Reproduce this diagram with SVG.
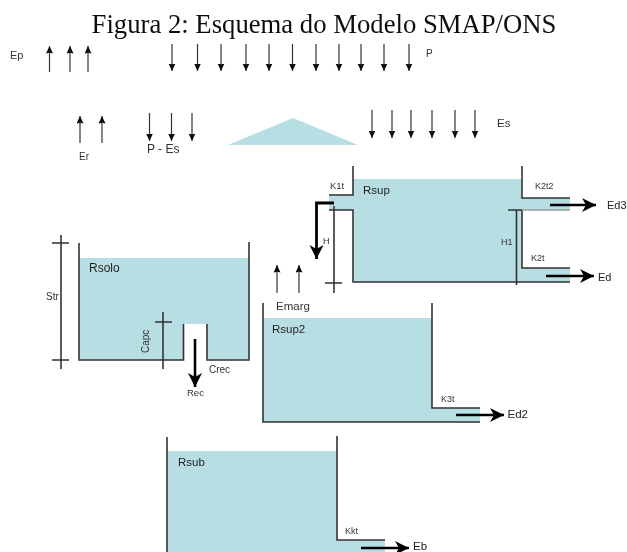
<svg xmlns="http://www.w3.org/2000/svg" width="627" height="552" viewBox="0 0 627 552">
<style>
.w{fill:#b7dfe3;stroke:none}
.l{fill:none;stroke:#333;stroke-width:1.6}
.g{fill:none;stroke:#9a9a9a;stroke-width:1.6}
.a{fill:none;stroke:#333;stroke-width:1.2;marker-end:url(#s)}
.b{fill:none;stroke:#000;stroke-width:2.6;marker-end:url(#m)}
.t{font-family:"Liberation Sans",Arial,sans-serif;font-size:10px;fill:#333}
.u{font-family:"Liberation Sans",Arial,sans-serif;font-size:9px;fill:#333}
.v{font-family:"Liberation Sans",Arial,sans-serif;font-size:11.5px;fill:#333}
.r{font-family:"Liberation Sans",Arial,sans-serif;font-size:11.5px;fill:#222}
</style>
<defs>
<marker id="s" markerUnits="userSpaceOnUse" markerWidth="8" markerHeight="8" refX="7.500" refY="3.500" orient="auto"><path d="M0,0L7.500,3.500L0,7L0.800,3.500Z" fill="#111"/></marker>
<marker id="m" markerUnits="userSpaceOnUse" markerWidth="16" markerHeight="16" refX="14" refY="7" orient="auto"><path d="M0,0L14,7L0,14L4,7Z" fill="#000"/></marker>
<filter id="soft" x="0" y="0" width="1" height="1"><feGaussianBlur stdDeviation="0.35"/></filter>
</defs>
<rect width="627" height="552" fill="#fff"/>
<g filter="url(#soft)">
<text id="title" x="324" y="33" text-anchor="middle" font-family="'Liberation Serif','Times New Roman',serif" font-size="26.700" fill="#111">Figura 2: Esquema do Modelo SMAP/ONS</text>
<g id="triangle"><path class="w" d="M228,145L293,118L358,145Z"/></g>
<g id="rsolo">
<path class="w" d="M79,258H249V360H207V324H183.500V360H79Z"/>
<path class="l" d="M79,243V360H183.500V324M207,324V360H249V242"/>
<text class="r" x="89" y="272" style="font-size:12px">Rsolo</text>
</g>
<g id="rsup">
<path class="w" d="M353,179H522V198H570V210H522V268H570V282H353V210H329V195H353Z"/>
<path class="l" d="M329,195H353V166M329,210H353V282H570M522,166V198H570M522,210V268H570"/>
<path class="g" d="M522,210H570"/>
<text class="r" x="363" y="194">Rsup</text>
</g>
<g id="rsup2">
<path class="w" d="M263,318H432V408H480V422H263Z"/>
<path class="l" d="M263,303V422H480M432,303V408H480"/>
<text class="r" x="272" y="333">Rsup2</text>
</g>
<g id="rsub">
<path class="w" d="M167,451H337V540H385V552H167Z"/>
<path class="l" d="M167,437V552M337,436V540H385"/>
<text class="r" x="178" y="466">Rsub</text>
</g>
<g id="connectors">
<path class="a" d="M49.500,72V46"/><path class="a" d="M70,72V46"/><path class="a" d="M88,72V46"/>
<path class="a" d="M172,44V71"/><path class="a" d="M197.500,44V71"/><path class="a" d="M221,44V71"/><path class="a" d="M246,44V71"/><path class="a" d="M269,44V71"/><path class="a" d="M292.500,44V71"/><path class="a" d="M316,44V71"/><path class="a" d="M339,44V71"/><path class="a" d="M361,44V71"/><path class="a" d="M384,44V71"/><path class="a" d="M409,44V71"/>
<path class="a" d="M80,143V116"/><path class="a" d="M102,143V116"/>
<path class="a" d="M149.500,113V141"/><path class="a" d="M171.500,113V141"/><path class="a" d="M192,113V141"/>
<path class="a" d="M372,110V138"/><path class="a" d="M392,110V138"/><path class="a" d="M411,110V138"/><path class="a" d="M432,110V138"/><path class="a" d="M455,110V138"/><path class="a" d="M475,110V138"/>
<path class="a" d="M277,293V265"/><path class="a" d="M299,293V265"/>
<path class="l" d="M61,235V369M52,243H69M52,360H69"/>
<path class="l" d="M163,312V369M155,322H172"/>
<path class="l" d="M334,206V293M325,283H342"/>
<path class="l" d="M516.500,210V285M508,210H522"/>
<path class="b" d="M195,339V387"/>
<path class="b" d="M334,203H316.500V259" style="stroke-width:2.800"/>
<path class="b" d="M550,205H596"/>
<path class="b" d="M546,276H594"/>
<path class="b" d="M456,415H504"/>
<path class="b" d="M361,548H409"/>
</g>
<g id="labels">
<text class="t" x="10" y="59" style="font-size:11px">Ep</text>
<text class="t" x="426" y="57">P</text>
<text class="t" x="79" y="160">Er</text>
<text class="t" x="147" y="153" style="font-size:12px">P - Es</text>
<text class="v" x="497" y="127">Es</text>
<text class="u" x="330" y="189" style="font-size:9.500px">K1t</text>
<text class="u" x="535" y="189">K2t2</text>
<text class="u" x="531" y="261">K2t</text>
<text class="u" x="501" y="245">H1</text>
<text class="u" x="323" y="244">H</text>
<text class="r" x="607" y="209" style="font-size:11px">Ed3</text>
<text class="r" x="598" y="281" style="font-size:11px">Ed</text>
<text class="v" x="276" y="310">Emarg</text>
<text class="t" x="46" y="300">Str</text>
<text class="t" transform="translate(149,353) rotate(-90)">Capc</text>
<text class="t" x="209" y="373">Crec</text>
<text class="t" x="187" y="396" style="font-size:9.500px">Rec</text>
<text class="u" x="441" y="402">K3t</text>
<text class="r" x="507.500" y="418">Ed2</text>
<text class="u" x="345" y="534">Kkt</text>
<text class="r" x="413" y="550">Eb</text>
</g>
</g>
</svg>
